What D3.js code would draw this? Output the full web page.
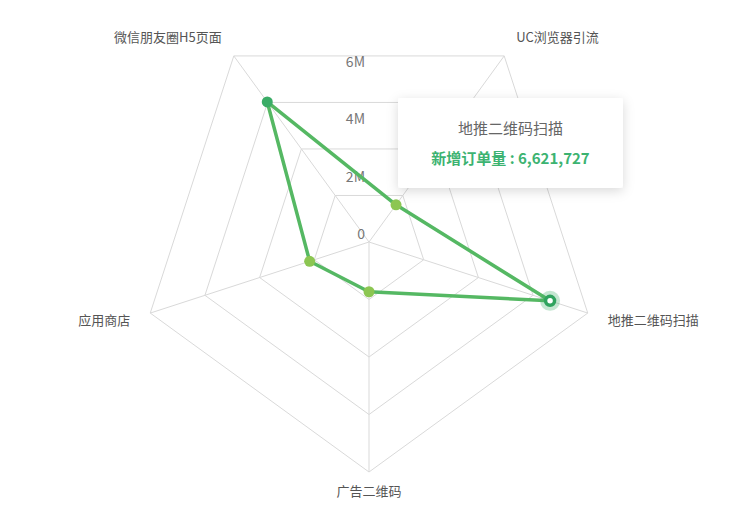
<!DOCTYPE html>
<html><head><meta charset="utf-8">
<script src="https://cdn.jsdelivr.net/npm/d3@7/dist/d3.min.js"></script>
<style>
html,body{margin:0;padding:0;background:#fff;}
svg{display:block;font-family:"Noto Sans CJK SC","Noto Sans",sans-serif;}
</style></head>
<body><svg id="c" width="753" height="524"></svg>
<script>
const indicators = ["微信朋友圈H5页面","UC浏览器引流","地推二维码扫描","广告二维码","应用商店"];
const values = [6020000, 1600000, 6621727, 1730000, 2170000];
const angleDeg = [234, 306, 18, 90, 162];
const tickValues = [0, 2000000, 4000000, 6000000, 8000000];
const tickLabels = ["0","2M","4M","6M",""];
const seriesName = "新增订单量";
const highlighted = 2;

const W=753,H=524, cx=369, cy=242, R=230;
const svg=d3.select("#c");
const r=d3.scaleLinear().domain([0,8000000]).range([0,R]);
const ang=angleDeg.map(a=>a*Math.PI/180);
const pt=(i,v)=>[cx+r(v)*Math.cos(ang[i]), cy+r(v)*Math.sin(ang[i])];
const line=d3.line().curve(d3.curveLinearClosed);

// grid rings
const g=svg.append("g");
tickValues.slice(1).forEach(t=>{
  g.append("path").attr("d",line(indicators.map((_,i)=>pt(i,t))))
   .attr("fill","none").attr("stroke","#d9d9d9").attr("stroke-width",1);
});
indicators.forEach((_,i)=>{
  const p=pt(i,8000000);
  g.append("line").attr("x1",cx).attr("y1",cy).attr("x2",p[0]).attr("y2",p[1])
   .attr("stroke","#d9d9d9").attr("stroke-width",1);
});

// axis labels (scale)
tickValues.forEach((t,k)=>{
  if(!tickLabels[k]) return;
  svg.append("text").attr("x",cx-4).attr("y",cy-r(t)-3)
   .attr("text-anchor","end").attr("font-size",14).attr("fill","#777").text(tickLabels[k]);
});

// indicator names
const nameOff = [[-12,-14,"end"],[12,-14,"start"],[20,12,"start"],[0,24,"middle"],[-20,12,"end"]];
indicators.forEach((n,i)=>{
  const p=pt(i,8000000);
  svg.append("text").attr("x",p[0]+nameOff[i][0]).attr("y",p[1]+nameOff[i][1])
   .attr("text-anchor",nameOff[i][2]).attr("font-size",13).attr("fill","#555").text(n);
});

// series
const pts=values.map((v,i)=>pt(i,v));
svg.append("path").attr("d",line(pts)).attr("fill","none")
  .attr("stroke","#55b863").attr("stroke-width",3.5).attr("stroke-linejoin","round");
const ptColor=v=>v>4000000?"#3aac66":"#8cc652";
pts.forEach((p,i)=>{
  if(i===highlighted){
    svg.append("circle").attr("cx",p[0]).attr("cy",p[1]).attr("r",10).attr("fill","#3aac66").attr("opacity",0.3);
    svg.append("circle").attr("cx",p[0]).attr("cy",p[1]).attr("r",4.5).attr("fill","#fff")
      .attr("stroke","#2fa35e").attr("stroke-width",3.5);
  } else {
    svg.append("circle").attr("cx",p[0]).attr("cy",p[1]).attr("r",5.5).attr("fill",ptColor(values[i]));
  }
});

// tooltip
const defs=svg.append("defs");
const f=defs.append("filter").attr("id","sh").attr("x","-20%").attr("y","-30%").attr("width","140%").attr("height","170%");
f.append("feDropShadow").attr("dx",0).attr("dy",3).attr("stdDeviation",6).attr("flood-color","#000").attr("flood-opacity",0.15);
const tx=398, ty=98, tw=225, th=90;
const tt=svg.append("g");
tt.append("rect").attr("x",tx).attr("y",ty).attr("width",tw).attr("height",th).attr("rx",3)
  .attr("fill","#fff").attr("filter","url(#sh)");
tt.append("text").attr("x",tx+tw/2).attr("y",ty+36).attr("text-anchor","middle")
  .attr("font-size",15).attr("fill","#666").text(indicators[highlighted]);
tt.append("text").attr("x",tx+tw/2).attr("y",ty+66).attr("text-anchor","middle")
  .attr("font-size",15).attr("font-weight","bold").attr("fill","#3cb371")
  .text(seriesName+" : "+d3.format(",")(values[highlighted]));
</script></body></html>
